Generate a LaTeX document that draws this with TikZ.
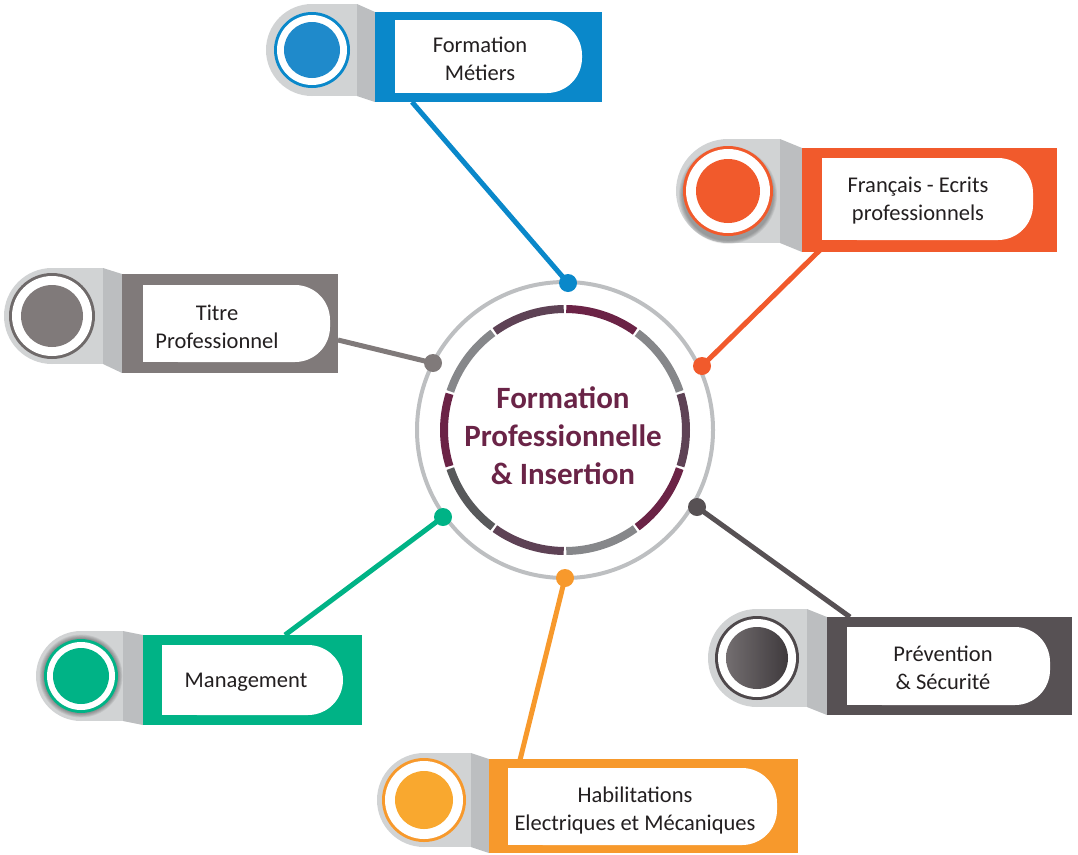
\documentclass[tikz,border=0pt]{standalone}
\usepackage{fontspec}
\setmainfont{Carlito}
\usetikzlibrary{calc}
\definecolor{cBlue}{HTML}{0A88CA}
\definecolor{cBlueD}{HTML}{1F8ACB}
\definecolor{cRed}{HTML}{F15A2C}
\definecolor{cGrey}{HTML}{807A7A}
\definecolor{cGreyO}{HTML}{6F6A6A}
\definecolor{cDark}{HTML}{575154}
\definecolor{cDarkO}{HTML}{4E484B}
\definecolor{cDarkL}{HTML}{736E70}
\definecolor{cDarkR}{HTML}{3F3A3D}
\definecolor{cGreen}{HTML}{00B386}
\definecolor{cOrange}{HTML}{F7992C}
\definecolor{cOrangeD}{HTML}{F9A82F}
\definecolor{tabL}{HTML}{D1D3D4}
\definecolor{tabD}{HTML}{BCBEC0}
\definecolor{ringG}{HTML}{BDBFC1}
\definecolor{segM}{HTML}{6B2346}
\definecolor{segG}{HTML}{86878A}
\definecolor{segP}{HTML}{5E4255}
\definecolor{segK}{HTML}{58595B}
\definecolor{txt}{HTML}{231F20}
\definecolor{ctxt}{HTML}{6A2447}

\newcommand\mytab[4]{%
  \fill[tabL] (#1,#2) circle[radius=#3];
  \fill[tabL] (#1,#2-#3) rectangle (#4,#2+#3);}
\newcommand\mywedge[6]{%
  \fill[tabD] (#1,#2) -- (#4,#5) -- (#4,#6) -- (#1,#3) -- cycle;}
\newcommand\mywhite[4]{%
  \fill[white, rounded corners=35pt] (#1,#2) rectangle (#3,#4);
  \fill[white] (#1,#2) rectangle (#1+40,#4);}
\newcommand\mybadge[6]{%
  \fill[#5] (#1,#2) circle[radius=#3];
  \fill[white] (#1,#2) circle[radius=#3-3];
  \fill[#6] (#1,#2) circle[radius=#4];}

\begin{document}
\begin{tikzpicture}[x=1pt,y=-1pt,
  lbl/.style={text=txt, align=center, inner sep=0pt, font=\fontsize{22.5}{28}\selectfont},
  band/.style={rectangle, inner sep=0pt, draw=none},
  dot/.style={circle, inner sep=0pt, minimum size=18pt},
  conn/.style={line width=5pt},
  seg/.style={line width=8pt}]
\useasboundingbox (0,0) rectangle (1078,854);

% ---------- hub ----------
\node[circle, draw=ringG, line width=4pt, minimum size=296pt, inner sep=0pt] (hub) at (565,430) {};
\foreach \a/\c in {54/segM, 18/segG, -18/segP, -54/segM, -90/segG, -126/segP, -162/segK, 162/segM, 126/segG, 90/segP}{
  \draw[seg, \c] ($(hub.center)+({-(\a+0.6)}:121)$) arc[start angle={-(\a+0.6)}, end angle={-(\a+35.4)}, radius=121];
}
\node[text=ctxt, align=center, inner sep=0pt, font=\fontsize{31}{38}\selectfont\bfseries] (hubtext) at (563,436) {Formation\\Professionnelle\\\& Insertion};

% ---------- connector end points ----------
\coordinate (e1) at (412,102);
\coordinate (e2) at (820,250);
\coordinate (e3) at (338,340);
\coordinate (e4) at (850,617);
\coordinate (e5) at (285,635);
\coordinate (e6) at (520,760);
\coordinate (p1) at (568,283);
\coordinate (p2) at (702,366);
\coordinate (p3) at (433,363);
\coordinate (p4) at (697,507);
\coordinate (p5) at (443,517);
\coordinate (p6) at (565,578);

\draw[conn, cBlue] (p1) -- (e1);
\draw[conn, cRed] (p2) -- (e2);
\draw[conn, cGrey] (p3) -- (e3);
\draw[conn, cDark] (p4) -- (e4);
\draw[conn, cGreen] (p5) -- (e5);
\draw[conn, cOrange] (p6) -- (e6);

\node[dot, fill=cBlue] (d1) at (p1) {};
\node[dot, fill=cRed] (d2) at (p2) {};
\node[dot, fill=cGrey] (d3) at (p3) {};
\node[dot, fill=cDark] (d4) at (p4) {};
\node[dot, fill=cGreen] (d5) at (p5) {};
\node[dot, fill=cOrange] (d6) at (p6) {};

% ---------- 1: Formation Metiers ----------
\mytab{312}{50}{46}{357}
\mywedge{357}{4}{96}{375}{12}{102}
\node[band, fill=cBlue, minimum width=227pt, minimum height=90pt] (r1) at (488.5,57) {};
\mywhite{395}{20}{582}{93}
\mybadge{312}{50}{38}{28}{cBlue}{cBlueD}
\node[lbl] (t1) at (480,59) {Formation\\Métiers};

% ---------- 2: Francais ----------
\mytab{728}{191}{52}{780}
\mywedge{780}{139}{243}{802}{148}{252}
\node[band, fill=cRed, minimum width=255pt, minimum height=104pt] (r2) at (929.5,200) {};
\mywhite{822}{158}{1033}{240}
\foreach \i in {1,...,5}{\fill[black, opacity=0.06] (728,195) circle[radius=45+\i*0.8];}
\mybadge{728}{191}{45}{32}{cRed}{cRed}
\node[lbl] (t2) at (918,201) {Français - Ecrits\\professionnels};

% ---------- 3: Titre Professionnel ----------
\mytab{52}{316}{48}{103}
\mywedge{103}{268}{364}{122}{274}{373}
\node[band, fill=cGrey, minimum width=216pt, minimum height=99pt] (r3) at (230,323.5) {};
\mywhite{143}{285}{330}{362}
\mybadge{52}{316}{43}{31}{cGreyO}{cGrey}
\node[lbl] (t3) at (217,327) {Titre\\Professionnel};

% ---------- 4: Prevention ----------
\mytab{757}{658}{49}{807}
\mywedge{807}{609}{707}{827}{617}{715}
\node[band, fill=cDark, minimum width=245pt, minimum height=98pt] (r4) at (949.5,666) {};
\mywhite{847}{627}{1050}{705}
\fill[cDarkO] (757,658) circle[radius=42];
\fill[white] (757,658) circle[radius=39];
\shade[left color=cDarkL, right color=cDarkR] (757,658) circle[radius=31];
\node[lbl] (t4) at (943,668) {Prévention\\\& Sécurité};

% ---------- 5: Management ----------
\mytab{81}{676}{45}{123}
\mywedge{123}{631}{721}{143}{635}{725}
\node[band, fill=cGreen, minimum width=219pt, minimum height=90pt] (r5) at (252.5,680) {};
\mywhite{162}{645}{343}{715}
\foreach \i in {1,...,5}{\fill[black, opacity=0.07] (81,676) circle[radius=37+\i*0.9];}
\mybadge{81}{676}{37}{28}{cGreen}{cGreen}
\node[lbl] (t5) at (246,682) {Management};

% ---------- 6: Habilitations ----------
\mytab{424}{800}{47}{471}
\mywedge{471}{753}{847}{489}{759}{853}
\node[band, fill=cOrange, minimum width=309pt, minimum height=94pt] (r6) at (643.5,806) {};
\mywhite{508}{768}{777}{845}
\mybadge{424}{800}{42}{29}{cOrange}{cOrangeD}
\node[lbl] (t6) at (635,810) {Habilitations\\Electriques et Mécaniques};
\end{tikzpicture}
\end{document}
